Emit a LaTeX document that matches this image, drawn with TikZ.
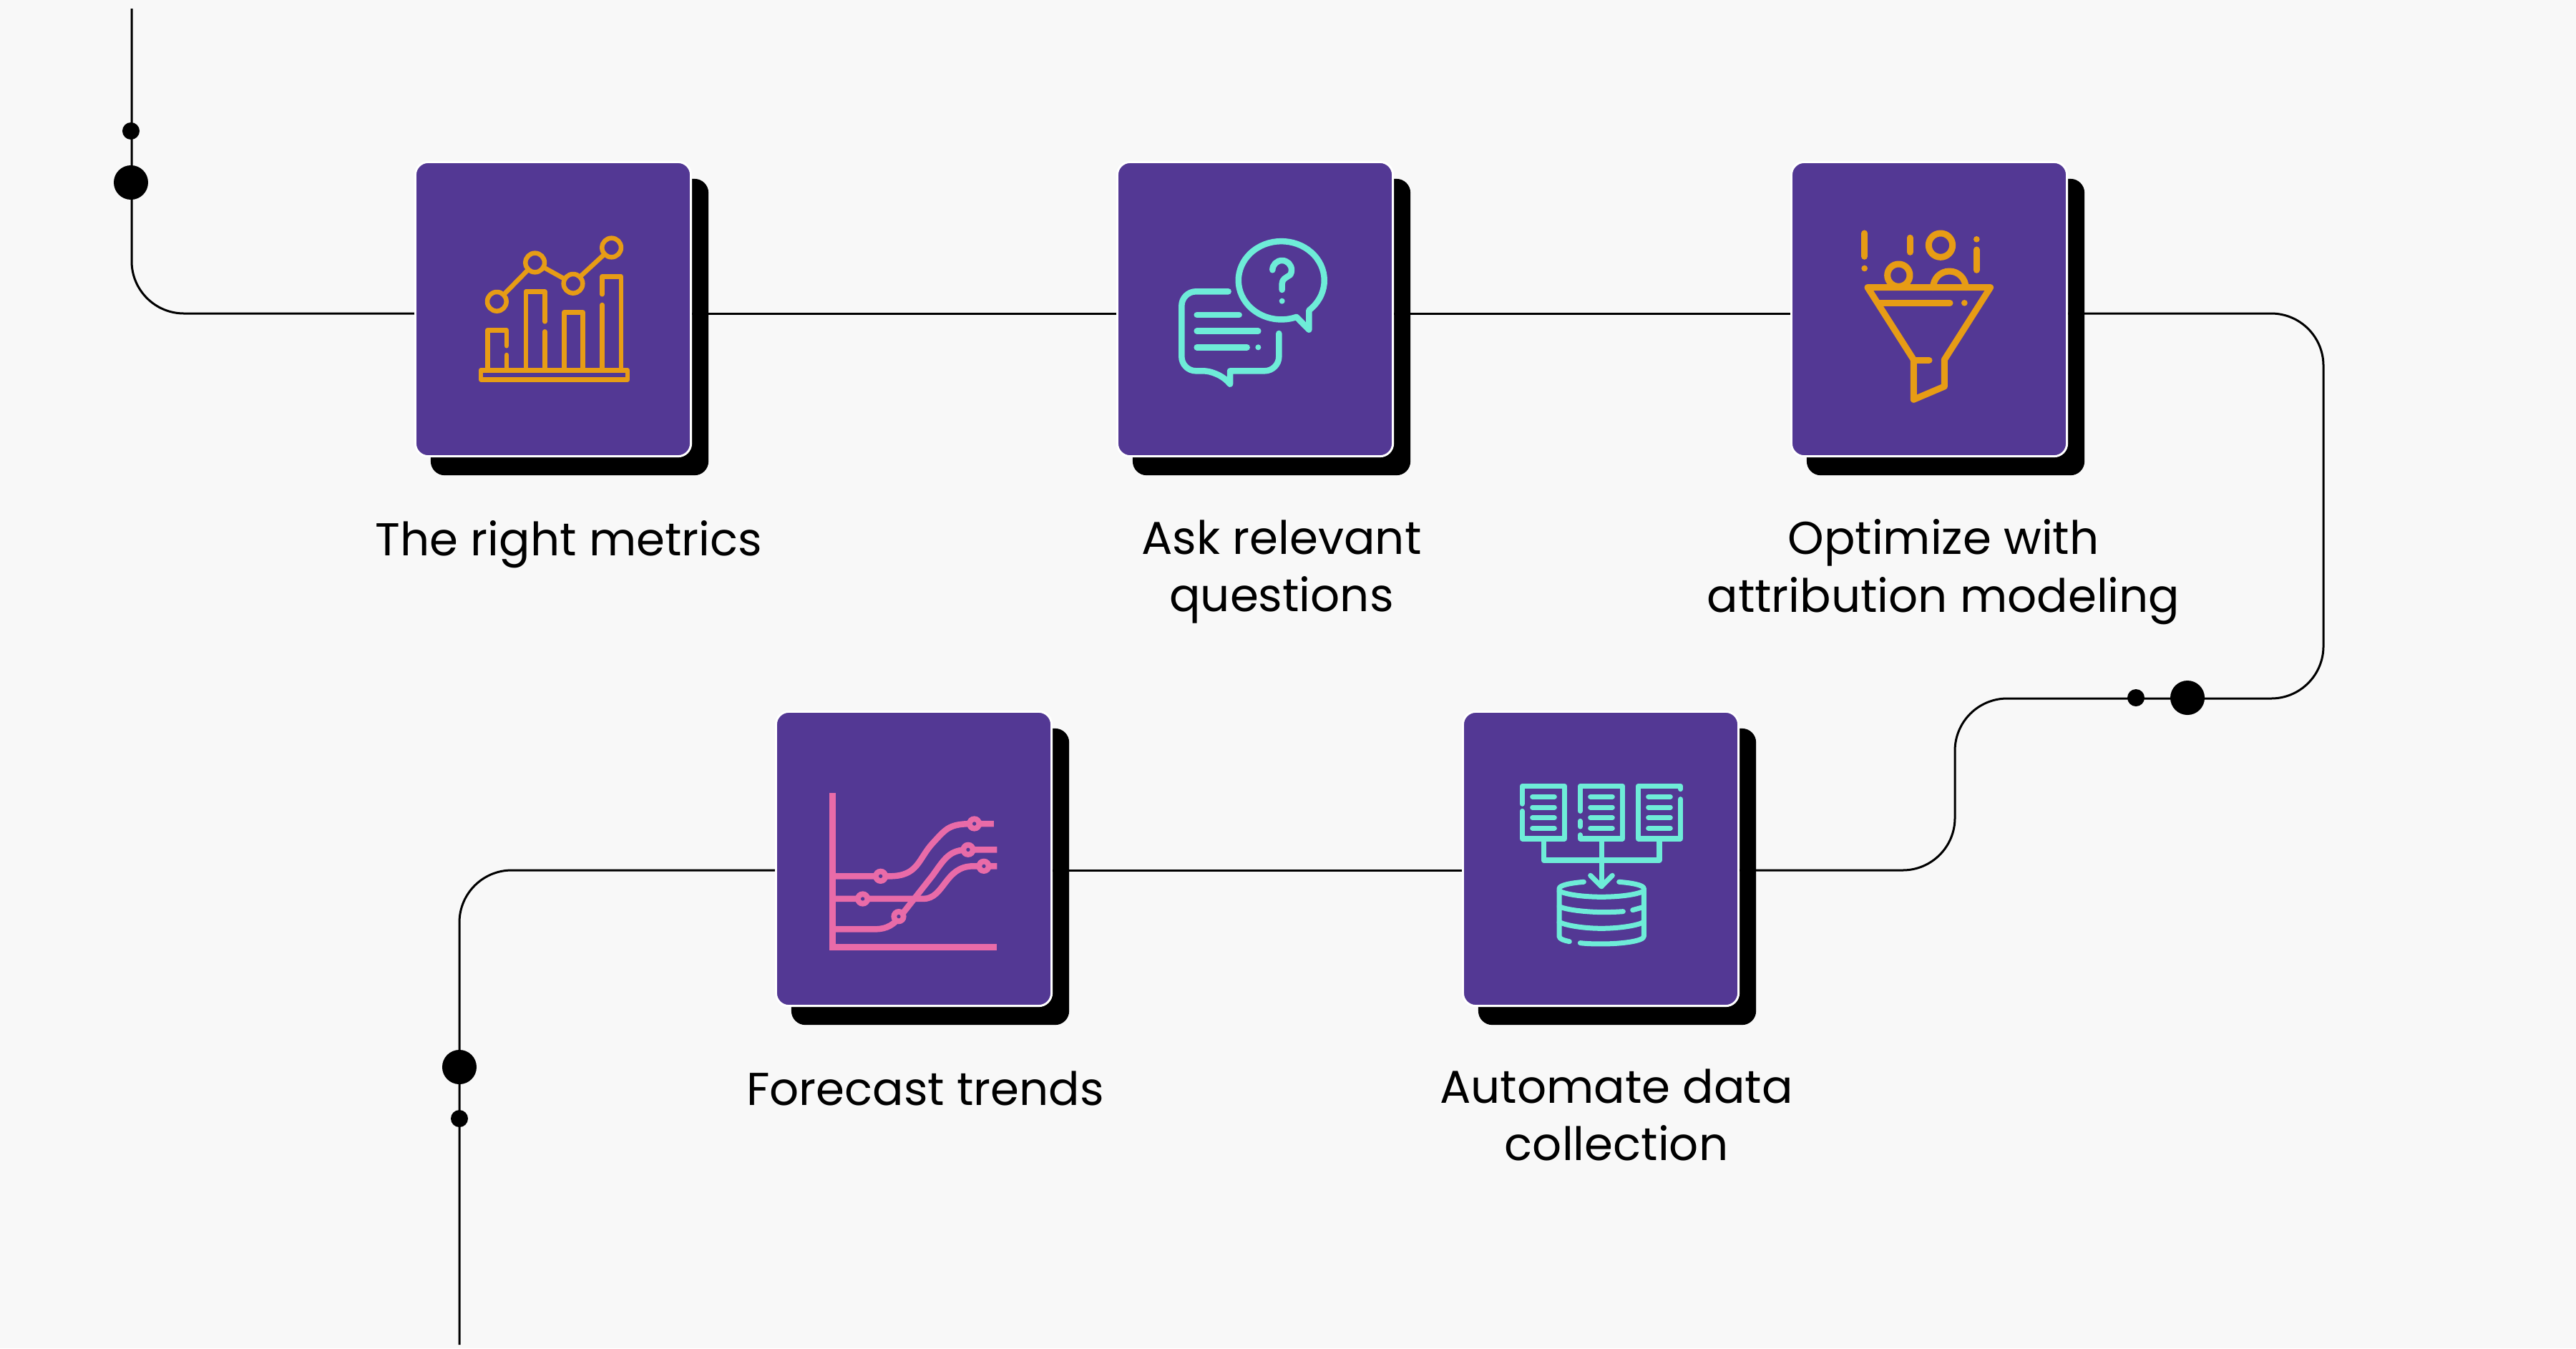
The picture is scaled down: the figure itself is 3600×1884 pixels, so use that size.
\documentclass[tikz,border=0pt]{standalone}
\usepackage{fontspec}
\setmainfont{Poppins}
\usetikzlibrary{shadows, calc}

\definecolor{pagegray}{HTML}{F8F8F8}
\definecolor{cardpurple}{HTML}{533894}
\definecolor{iconorange}{HTML}{E79C15}
\definecolor{iconteal}{HTML}{6EECD8}
\definecolor{iconpink}{HTML}{E96BA8}

\tikzset{
  card/.style={rectangle, draw=white, fill=cardpurple, line width=0.03cm, rounded corners=0.18cm,
               minimum width=3.85cm, minimum height=4.11cm, inner sep=0,
               copy shadow={shadow xshift=0.23cm, shadow yshift=-0.25cm, fill=black, draw=black}},
  wire/.style={black, line width=0.03cm, rounded corners=0.73cm},
  bigdot/.style={circle, fill=black, inner sep=0, minimum size=0.48cm},
  smalldot/.style={circle, fill=black, inner sep=0, minimum size=0.24cm},
  caption/.style={align=center, font=\fontsize{18.3}{23}\selectfont, text=black},
  glyph/.style={line cap=round, line join=round}
}

\begin{document}
\begin{tikzpicture}[x=0.01cm, y=0.01cm, yscale=-1]

  \fill[pagegray] (0, 0) rectangle (3600, 1884);
  \useasboundingbox (0, 0) rectangle (3600, 1884);

  \foreach \x/\y/\cardname in {773/432/metrics, 1754/432/ask, 2696/432/optimize,
                               1277/1200/forecast, 2237/1200/automate} {
    \node[card] (\cardname) at (\x, \y) {};
  }

  \coordinate (wiretop) at (184, 12);
  \coordinate (wireend) at (642, 1879);
  \coordinate (bendne) at (3247, 438);
  \coordinate (bendse) at (3247, 976);
  \coordinate (bendmid) at (2732, 976);
  \coordinate (bendlow) at (2732, 1216);
  \coordinate (bendsw) at (642, 1216);

  \draw[wire] (wiretop) |- ([yshift=0.06cm]metrics.west);
  \draw[wire] ([yshift=0.06cm]metrics.east) -- ([yshift=0.06cm]ask.west);
  \draw[wire] ([yshift=0.06cm]ask.east) -- ([yshift=0.06cm]optimize.west);
  \draw[wire] ([yshift=0.06cm]optimize.east) -- (bendne) -- (bendse) -- (bendmid) -- (bendlow)
              -- ([yshift=0.16cm]automate.east);
  \draw[wire] ([yshift=0.16cm]automate.west) -- ([yshift=0.16cm]forecast.east);
  \draw[wire] ([yshift=0.16cm]forecast.west) -- (bendsw) -- (wireend);

  \node[smalldot] (doto) at (183, 183) {};
  \node[bigdot] (dotp) at (183, 255) {};
  \node[smalldot] (dotq) at (2985, 975) {};
  \node[bigdot] (dotr) at (3057, 975) {};
  \node[bigdot] (dots) at (642, 1491) {};
  \node[smalldot] (dott) at (642, 1563) {};

  \begin{scope}[shift={(560, 200)}, scale=0.3333, glyph, iconorange, line width=0.065cm]
    \draw (336, 952) rectangle (951, 991);
    \draw (364, 952) -- (364, 784) -- (444, 784) -- (444, 850);
    \draw (444, 888) -- (444, 952);
    \draw (525, 952) -- (525, 622) -- (604, 622) -- (604, 748);
    \draw (604, 790) -- (604, 952);
    \draw (685, 952) -- (685, 709) -- (764, 709) -- (764, 952);
    \draw (845, 952) -- (845, 678);
    \draw (845, 634) -- (845, 559) -- (924, 559) -- (924, 952);
    \foreach \x/\y in {403/664, 563/501, 723/589, 884/438} {
      \draw (\x, \y) circle (40);
    }
    \draw (431, 636) -- (535, 530);
    \draw (598, 520) -- (688, 570);
    \draw (752, 560) -- (855, 465);
  \end{scope}

  \begin{scope}[shift={(1540, 200)}, scale=0.3333, glyph, iconteal, line width=0.085cm]
    \draw (868, 782) -- (868, 701) arc[start angle=50, end angle=-290.5, x radius=180, y radius=164] -- cycle;
    \draw (715, 532) arc[start angle=180, end angle=390, radius=40]
          .. controls (770, 565) and (755, 570) .. (755, 590) -- (755, 615);
    \fill (755, 662) circle (12);
    \draw[rounded corners=0.2cm] (530, 622) -- (334, 622) -- (334, 955) -- (485, 955) [sharp corners] -- (537, 1010) -- (537, 955)
          [rounded corners=0.2cm] -- (742, 955) -- (742, 798);
    \foreach \y/\xend in {720/575, 788/655, 856/608} {
      \draw (398, \y) -- (\xend, \y);
    }
    \fill (655, 856) circle (12);
  \end{scope}

  \begin{scope}[shift={(2480, 200)}, scale=0.3333, glyph, iconorange, line width=0.09cm]
    \draw (390, 605) -- (905, 605) -- (712, 908) -- (712, 1020) -- (583, 1075) -- (583, 908) -- cycle;
    \draw (583, 910) -- (648, 910);
    \draw (435, 670) -- (735, 670);
    \draw (377, 378) -- (377, 475);
    \draw (568, 397) -- (568, 457);
    \draw (847, 447) -- (847, 532);
    \foreach \x/\y in {796/670, 377/525, 847/403} {
      \fill (\x, \y) circle (13);
    }
    \draw (696, 428) circle (50);
    \draw (520, 554) circle (47);
    \draw (665, 605) arc[start angle=180, end angle=360, radius=68];
  \end{scope}

  \begin{scope}[shift={(1060, 970)}, scale=0.3333, iconpink, line width=0.085cm]
    \draw (310, 415) -- (310, 1060) -- (1000, 1060);
    \draw (310, 763) -- (550, 763) .. controls (670, 763) and (670, 690) .. (730, 625)
          .. controls (790, 560) and (800, 543) .. (905, 543) -- (987, 543);
    \draw (310, 858) -- (690, 858) .. controls (780, 858) and (780, 721) .. (900, 721) -- (1000, 721);
    \draw (310, 985) -- (490, 985) .. controls (540, 985) and (570, 965) .. (600, 925) -- (730, 760)
          .. controls (780, 690) and (800, 652) .. (879, 652) -- (1000, 652);
    \foreach \x/\y in {512/763, 437/858, 588/932, 905/543, 879/652, 945/721} {
      \fill (\x, \y) circle (32);
      \fill[cardpurple] (\x, \y) circle (8);
    }
  \end{scope}

  \begin{scope}[shift={(2020, 970)}, scale=0.3333, glyph, iconteal, line width=0.07cm]
    \draw (322, 460) -- (322, 385) -- (500, 385) -- (500, 606) -- (322, 606) -- (322, 490);
    \draw (565, 490) -- (565, 385) -- (743, 385) -- (743, 606) -- (565, 606) -- (565, 590);
    \draw (565, 532) -- (565, 555);
    \draw (986, 398) -- (986, 385) -- (808, 385) -- (808, 606) -- (986, 606) -- (986, 440);
    \foreach \x in {365, 608, 851} {
      \foreach \y in {430, 474, 518, 562} {
        \draw (\x, \y) -- (\x + 92, \y);
      }
    }
    \draw (411, 606) -- (411, 696) -- (897, 696) -- (897, 606);
    \draw (654, 606) -- (654, 806);
    \draw (608, 760) -- (654, 806) -- (700, 760);
    \draw (580, 787) .. controls (530, 791) and (477, 800) .. (477, 815) -- (477, 1015)
          .. controls (477, 1027) and (500, 1033) .. (520, 1037);
    \draw (728, 787) .. controls (780, 791) and (832, 800) .. (832, 815) -- (832, 1015)
          .. controls (832, 1035) and (740, 1047) .. (654, 1047) .. controls (620, 1047) and (590, 1046) .. (565, 1043);
    \draw (477, 825) .. controls (510, 842) and (590, 850) .. (654, 850) .. controls (720, 850) and (800, 842) .. (832, 825);
    \draw (477, 890) .. controls (510, 905) and (590, 913) .. (654, 914) .. controls (690, 914) and (720, 913) .. (745, 911);
    \draw (785, 905) -- (832, 892);
    \draw (477, 955) .. controls (510, 972) and (590, 982) .. (654, 982) .. controls (720, 982) and (800, 972) .. (832, 955);
  \end{scope}

  \node[caption] (metricstext) at (795, 761) {The right metrics};
  \node[caption] (asktext) at (1791, 799) {Ask relevant\\questions};
  \node[caption] (optimizetext) at (2716, 799) {Optimize with\\attribution modeling};
  \node[caption] (forecasttext) at (1293, 1521) {Forecast trends};
  \node[caption] (automatetext) at (2259, 1558) {Automate data\\collection};

\end{tikzpicture}
\end{document}
